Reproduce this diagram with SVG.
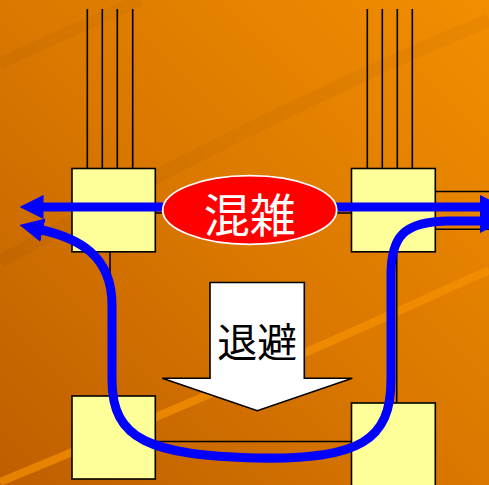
<svg xmlns="http://www.w3.org/2000/svg" width="489" height="485" viewBox="0 0 489 485">
  <defs>
    <linearGradient id="bg" x1="1" y1="0" x2="0" y2="1">
      <stop offset="0" stop-color="#F28E00"/>
      <stop offset="0.5" stop-color="#DA7800"/>
      <stop offset="1" stop-color="#BE5E00"/>
    </linearGradient>
    <marker id="ah" viewBox="0 0 24 24" markerWidth="24" markerHeight="24" refX="3" refY="12" orient="auto-start-reverse" markerUnits="userSpaceOnUse">
      <path d="M0,0 L24,12 L0,24 z" fill="#0000FF"/>
    </marker>
    <style>
      .box { fill: #FFFF99; stroke: #000; stroke-width: 1.6; }
      .wire { stroke: #000; stroke-width: 1.6; fill: none; }
      .flow { stroke: #0000FF; stroke-width: 9; fill: none; }
      .cjk { font-family: "Noto Sans CJK JP", "Noto Sans CJK SC", sans-serif; text-anchor: middle; }
    </style>
  </defs>

  <!-- background -->
  <rect width="489" height="485" fill="url(#bg)"/>
  <path d="M0,63 L140,0" stroke="#000" stroke-opacity="0.03" stroke-width="12" fill="none"/>
  <path d="M0,262 Q250,120 489,20" stroke="#000" stroke-opacity="0.03" stroke-width="14" fill="none"/>
  <path d="M0,482 Q250,380 489,270" stroke="#F79200" stroke-opacity="0.7" stroke-width="8" fill="none"/>

  <!-- connectors (black wires) -->
  <g id="wires">
    <path class="wire" d="M87.3,9 V168 M102.3,9 V168 M117.3,9 V168 M132.7,9 V168"/>
    <path class="wire" d="M367.3,9 V168 M382.3,9 V168 M397.3,9 V168 M412.3,9 V168"/>
    <path class="wire" d="M155,213 H351"/>
    <path class="wire" d="M435,191.5 H489 M435,229.3 H489"/>
    <path class="wire" d="M110,252 V396"/>
    <path class="wire" d="M396.7,252 V403"/>
    <path class="wire" d="M155,441.5 H351"/>
  </g>

  <!-- nodes -->
  <g id="box-top-left"><rect class="box" x="72" y="168.5" width="83.3" height="83.3"/></g>
  <g id="box-top-right"><rect class="box" x="351.5" y="168.5" width="83.8" height="83.3"/></g>
  <g id="box-bottom-left"><rect class="box" x="72" y="396" width="83.3" height="83"/></g>
  <g id="box-bottom-right"><rect class="box" x="351.5" y="403" width="83.8" height="90"/></g>

  <!-- blue flows -->
  <g id="flows">
    <path class="flow" d="M250,207 H40.5" marker-end="url(#ah)"/>
    <path class="flow" d="M250,207 H483" marker-end="url(#ah)"/>
    <path class="flow" d="M40,229.5 C78,238 112,255 112,305 L112,380 C112,440 150,455 257,458 C360,460 391,440 391,380 L391,275 C391,238 402,221 450,221 L483,221" marker-start="url(#ah)" marker-end="url(#ah)"/>
  </g>

  <!-- congestion label -->
  <g id="congestion">
    <ellipse cx="249.7" cy="210" rx="87" ry="34.3" fill="#FF0000" stroke="#FFFFFF" stroke-width="1.8"/>
    <text class="cjk" x="249.7" y="232" font-size="46" fill="#FFFFFF">混雑</text>
  </g>

  <!-- evacuation arrow -->
  <g id="evacuate">
    <polygon points="210,282.5 304.3,282.5 304.3,378.3 352.3,378.3 257.3,410.7 162.3,378.3 210,378.3" fill="#FFFFFF" stroke="#000" stroke-width="1.6" stroke-linejoin="miter"/>
    <text class="cjk" x="257.3" y="357" font-size="40" fill="#000">退避</text>
  </g>
</svg>
